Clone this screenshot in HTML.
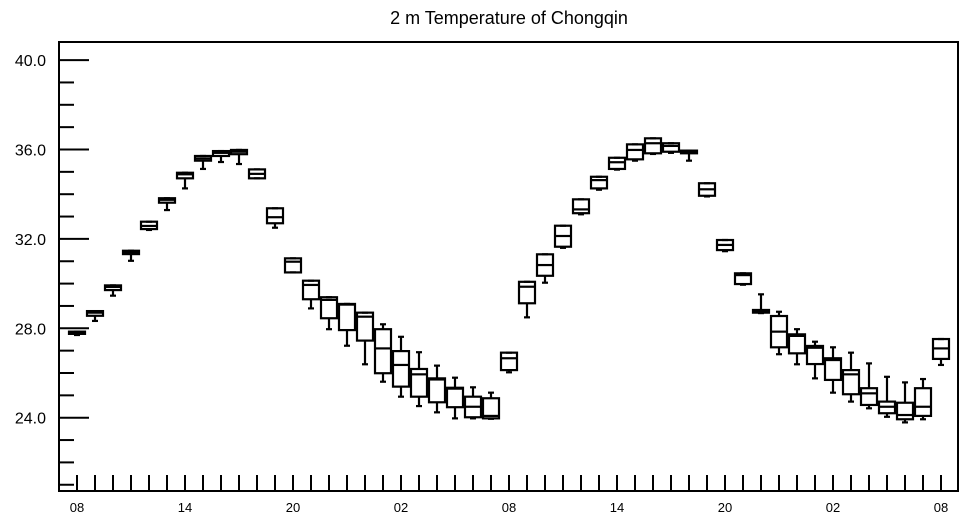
<!DOCTYPE html>
<html><head><meta charset="utf-8"><style>
body{margin:0;background:#fff;}
svg{display:block;font-family:"Liberation Sans",Helvetica,Arial,sans-serif;}
</style></head><body>
<svg id="chart" width="964" height="520" viewBox="0 0 964 520" xmlns="http://www.w3.org/2000/svg">
<text x="509" y="24" font-size="18" text-anchor="middle">2 m Temperature of Chongqin</text>
<g id="axes"></g>
<g id="boxes"></g>
</svg>
<script>
const mins=[27.7,28.33,29.46,31.02,32.4,33.29,34.26,35.13,35.44,35.35,34.71,32.5,30.5,28.89,27.96,27.22,26.39,25.61,24.94,24.52,24.24,23.97,23.97,23.95,26.03,28.49,30.04,31.6,33.1,34.2,35.1,35.5,35.8,35.85,35.5,33.9,31.45,29.95,28.68,26.84,26.39,25.76,25.12,24.72,24.42,24.04,23.79,23.93,26.36];
const q1s=[27.75,28.56,29.71,31.32,32.44,33.62,34.71,35.5,35.71,35.79,34.71,32.7,30.5,29.3,28.45,27.92,27.45,25.99,25.39,24.94,24.69,24.47,24.02,23.97,26.13,29.12,30.35,31.65,33.15,34.26,35.13,35.56,35.83,35.9,35.83,33.93,31.5,29.98,28.7,27.15,26.88,26.4,25.69,25.05,24.57,24.2,23.93,24.08,26.63];
const medians=[27.8,28.7,29.85,31.4,32.58,33.75,34.89,35.6,35.85,35.9,34.91,32.97,30.98,29.94,29.27,29.06,28.52,27.1,26.36,25.94,25.71,25.3,24.49,24.08,26.66,29.86,30.83,32.13,33.32,34.63,35.43,35.98,36.28,36.16,35.9,34.22,31.73,30.38,28.75,27.85,27.66,27.13,26.58,25.94,25.09,24.49,24.12,24.49,27.1];
const q3s=[27.85,28.77,29.92,31.47,32.77,33.82,34.96,35.71,35.93,35.98,35.11,33.37,31.13,30.13,29.39,29.09,28.7,27.96,26.98,26.18,25.76,25.34,24.94,24.87,26.91,30.08,31.31,32.59,33.77,34.78,35.63,36.23,36.5,36.28,35.95,34.49,31.95,30.46,28.82,28.55,27.73,27.21,26.66,26.13,25.32,24.72,24.67,25.32,27.52];
const maxs=[27.85,28.77,29.92,31.47,32.77,33.82,34.96,35.71,35.93,35.98,35.11,33.37,31.13,30.13,29.39,29.09,28.7,28.18,27.62,26.93,26.33,25.79,25.36,25.12,26.91,30.08,31.31,32.59,33.77,34.78,35.63,36.23,36.5,36.28,35.95,34.49,31.95,30.46,29.52,28.74,27.96,27.4,27.15,26.91,26.43,25.83,25.58,25.73,27.52];
const xLabels=["08","14","20","02","08","14","20","02","08"];
const yTicks=[24,28,32,36,40];
const NS="http://www.w3.org/2000/svg";
const y=v=>417.7-(v-24)*22.35;
const x=i=>77+18*i;
function mk(tag,attrs,parent){const e=document.createElementNS(NS,tag);for(const k in attrs)e.setAttribute(k,attrs[k]);parent.appendChild(e);return e;}
const ax=document.getElementById('axes'),bx=document.getElementById('boxes');
const frame=mk('rect',{x:59,y:42,width:899,height:449,fill:'none',stroke:'#000','stroke-width':2},ax);


for(let v=21;v<=40;v++){
  const major=yTicks.includes(v);
  const t=mk('line',{x1:59,x2:major?89:74,y1:y(v),y2:y(v),stroke:'#000','stroke-width':2},ax);
  
  
}
yTicks.forEach(v=>{
  const t=mk('text',{x:46,y:y(v)+6,'font-size':16,'text-anchor':'end'},ax);t.textContent=v.toFixed(1);
  
  
});
for(let i=0;i<49;i++){
  const t=mk('line',{x1:x(i),x2:x(i),y1:491,y2:475,stroke:'#000','stroke-width':2},ax);
  
  
}
xLabels.forEach((s,k)=>{
  const t=mk('text',{x:x(k*6),y:512,'font-size':13,'text-anchor':'middle'},ax);t.textContent=s;
  
  
});
medians.forEach((m,i)=>{
  const g=mk('g',{stroke:'#000','stroke-width':2.2,fill:'none'},bx);
  
  
  const cx=x(i),w=8;
  mk('rect',{x:cx-w,y:y(q3s[i]),width:2*w,height:Math.max(1,y(q1s[i])-y(q3s[i]))},g);
  mk('line',{x1:cx-w,x2:cx+w,y1:y(m),y2:y(m)},g);
  mk('line',{x1:cx,x2:cx,y1:y(maxs[i]),y2:y(q3s[i])},g);
  mk('line',{x1:cx,x2:cx,y1:y(q1s[i]),y2:y(mins[i])},g);
  mk('line',{x1:cx-3,x2:cx+3,y1:y(maxs[i]),y2:y(maxs[i])},g);
  mk('line',{x1:cx-3,x2:cx+3,y1:y(mins[i]),y2:y(mins[i])},g);
});
</script>
</body></html>
